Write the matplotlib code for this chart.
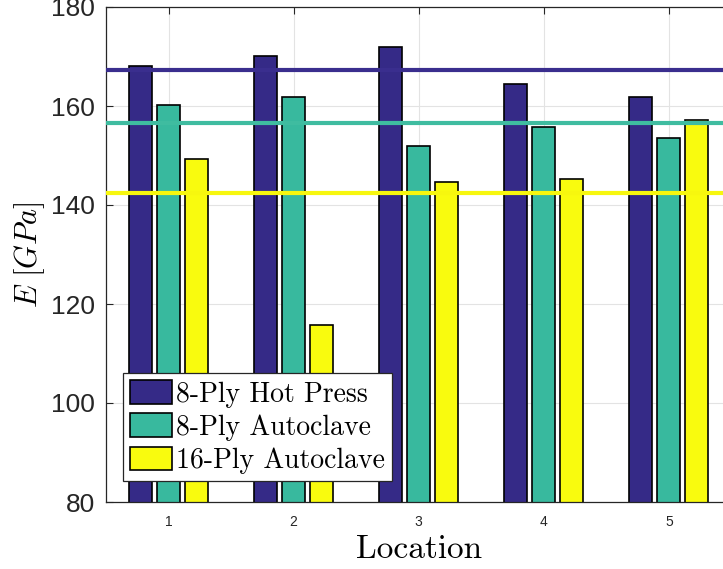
import matplotlib
matplotlib.use("Agg")
import matplotlib.pyplot as plt
import numpy as np

locations = [1, 2, 3, 4, 5]
hot_press_8 = [168.0, 170.2, 172.0, 164.4, 161.9]
autoclave_8 = [160.3, 161.8, 152.0, 155.7, 153.6]
autoclave_16 = [149.2, 115.8, 144.7, 145.3, 157.2]
mean_hot_press_8 = 167.3
mean_autoclave_8 = 156.6
mean_autoclave_16 = 142.5
series_names = ["8-Ply Hot Press", "8-Ply Autoclave", "16-Ply Autoclave"]
yticks = [80, 100, 120, 140, 160, 180]

plt.rcParams['mathtext.fontset'] = 'cm'

colors = ["#352A87", "#38B99E", "#F9FB0E"]
line_colors = ["#3A2E8E", "#3FBCA0", "#F7F70E"]

W, H = 723, 569
ax_l, ax_r, ax_t, ax_b = 106, 731.5, 7, 502
fig = plt.figure(figsize=(W / 100, H / 100), dpi=100)
ax = fig.add_axes([ax_l / W, 1 - ax_b / H, (ax_r - ax_l) / W, (ax_b - ax_t) / H])

x = np.array(locations, dtype=float)
w = 0.184
offs = [-0.224, 0.0, 0.224]
data = [hot_press_8, autoclave_8, autoclave_16]
handles = []
for d, o, c, n in zip(data, offs, colors, series_names):
    h = ax.bar(x + o, d, width=w, color=c, edgecolor="black", linewidth=1.2, label=n, zorder=2)
    handles.append(h)

for m, c in zip([mean_hot_press_8, mean_autoclave_8, mean_autoclave_16], line_colors):
    ax.axhline(m, color=c, linewidth=3.0, zorder=3)

ax.set_xlim(0.5, 5.5)
ax.set_ylim(80, 180)
ax.set_xticks(locations)
ax.set_yticks(yticks)
ax.grid(True, color="#E3E3E3", linewidth=0.8, zorder=0)
ax.set_axisbelow(True)
ax.tick_params(axis='x', direction='in', length=5, labelsize=10, colors="#262626", top=True, pad=9)
ax.tick_params(axis='y', direction='in', length=5, labelsize=19, colors="#262626", right=False, pad=8)
for lab in ax.get_xticklabels() + ax.get_yticklabels():
    lab.set_family(["Liberation Sans", "DejaVu Sans"])
for s in ax.spines.values():
    s.set_color("#262626")
    s.set_linewidth(0.9)

ax.set_xlabel("Location", family="cmr10", fontsize=24, labelpad=5)
ax.set_ylabel(r"$E\ [GPa]$", fontsize=22, labelpad=3)

ax_w = ax_r - ax_l
ax_h = ax_b - ax_t
leg = ax.legend(handles=handles, labels=series_names, loc="lower left",
                bbox_to_anchor=((123 - ax_l) / ax_w, (ax_b - 481) / ax_h),
                prop={"family": "cmr10", "size": 20}, frameon=True, fancybox=False,
                framealpha=1.0, edgecolor="#262626", handlelength=1.5, handleheight=0.95,
                borderpad=0.25, labelspacing=0.2, handletextpad=0.15, borderaxespad=0.0)
leg.get_frame().set_linewidth(0.9)
leg.set_zorder(5)

fig.savefig("out.png", dpi=100)
